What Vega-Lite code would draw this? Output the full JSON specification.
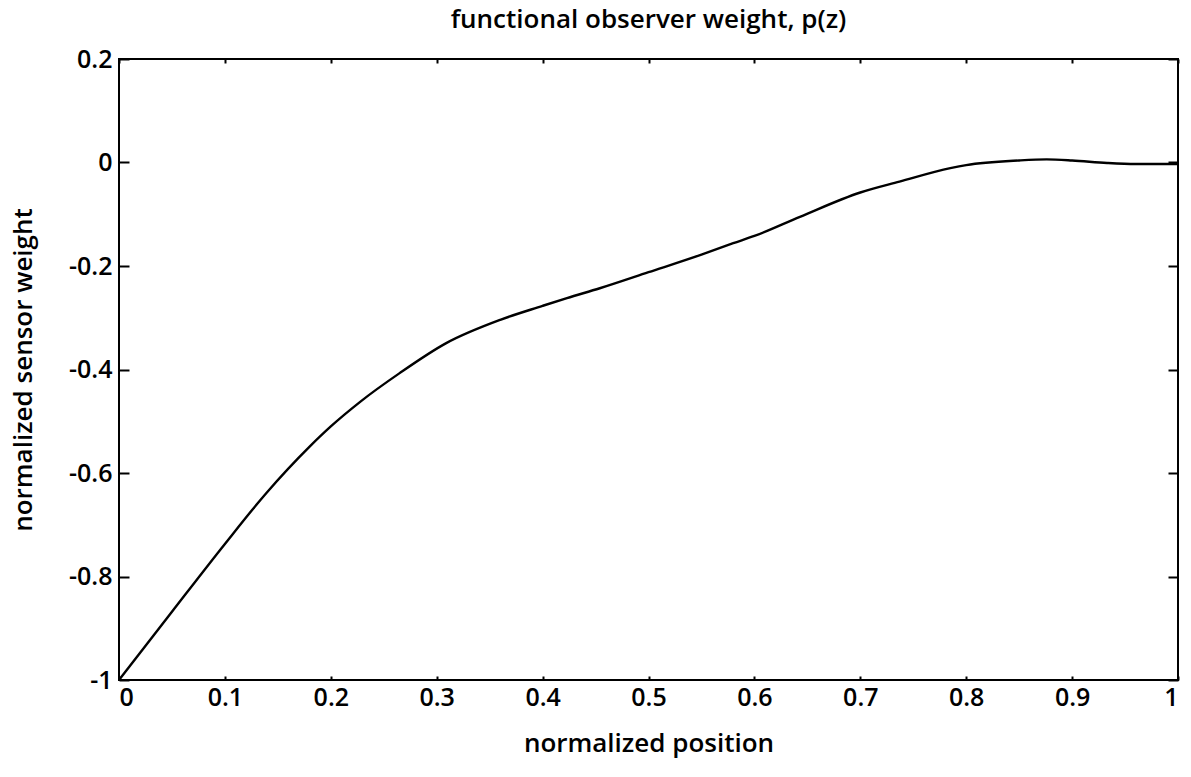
{
  "$schema": "https://vega.github.io/schema/vega-lite/v6.json",
  "width": 1059,
  "height": 621,
  "autosize": {"type": "none"},
  "padding": {"left": 119, "top": 59, "right": 13, "bottom": 97},
  "background": "white",
  "title": {
    "text": "functional observer weight, p(z)",
    "font": "Open Sans",
    "fontSize": 26,
    "fontWeight": 600,
    "color": "black",
    "offset": 14
  },
  "config": {
    "view": {"stroke": "black", "strokeWidth": 2},
    "axis": {
      "domain": false,
      "grid": false,
      "tickColor": "black",
      "tickWidth": 2,
      "labelFont": "Open Sans",
      "labelFontSize": 25,
      "labelFontWeight": 600,
      "labelColor": "black",
      "titleFont": "Open Sans",
      "titleFontSize": 26,
      "titleFontWeight": 600,
      "titleColor": "black"
    }
  },
  "data": {
    "values": [
      {"pos": 0, "w": -1},
      {"pos": 0.05, "w": -0.868},
      {"pos": 0.1, "w": -0.737},
      {"pos": 0.139, "w": -0.639},
      {"pos": 0.18, "w": -0.549},
      {"pos": 0.2, "w": -0.51},
      {"pos": 0.228, "w": -0.462},
      {"pos": 0.265, "w": -0.407},
      {"pos": 0.309, "w": -0.349},
      {"pos": 0.36, "w": -0.304},
      {"pos": 0.4, "w": -0.277},
      {"pos": 0.423, "w": -0.262},
      {"pos": 0.454, "w": -0.243},
      {"pos": 0.5, "w": -0.212},
      {"pos": 0.55, "w": -0.178},
      {"pos": 0.58, "w": -0.156},
      {"pos": 0.6, "w": -0.142},
      {"pos": 0.643, "w": -0.105},
      {"pos": 0.7, "w": -0.058},
      {"pos": 0.737, "w": -0.037},
      {"pos": 0.785, "w": -0.011},
      {"pos": 0.8, "w": -0.005},
      {"pos": 0.85, "w": 0.004},
      {"pos": 0.876, "w": 0.006},
      {"pos": 0.9, "w": 0.004},
      {"pos": 0.933, "w": -0.001},
      {"pos": 0.96, "w": -0.003},
      {"pos": 1, "w": -0.003}
    ]
  },
  "layer": [
    {
      "mark": {"type": "line", "color": "black", "strokeWidth": 2.4, "interpolate": "monotone", "clip": true},
      "encoding": {
        "x": {
          "field": "pos", "type": "quantitative",
          "scale": {"domain": [0, 1], "nice": false, "zero": false},
          "axis": {"orient": "bottom", "title": "normalized position", "values": [0,0.1,0.2,0.3,0.4,0.5,0.6,0.7,0.8,0.9,1], "labelExpr": "replace(datum.label, '\u2212', '-')", "format": "~g", "offset": -4, "tickSize": 4, "labelPadding": 5, "titlePadding": 20}
        },
        "y": {
          "field": "w", "type": "quantitative",
          "scale": {"domain": [-1, 0.2], "nice": false, "zero": false},
          "axis": {"orient": "left", "title": "normalized sensor weight", "values": [-1,-0.8,-0.6,-0.4,-0.2,0,0.2], "labelExpr": "replace(datum.label, '\u2212', '-')", "format": "~g", "offset": -10, "tickSize": 10, "labelPadding": 7, "titlePadding": 32}
        }
      }
    },
    {
      "mark": {"type": "line", "opacity": 0},
      "encoding": {
        "x": {
          "field": "pos", "type": "quantitative",
          "axis": {"orient": "top", "title": null, "labels": false, "values": [0,0.1,0.2,0.3,0.4,0.5,0.6,0.7,0.8,0.9,1], "offset": -4, "tickSize": 4}
        },
        "y": {
          "field": "w", "type": "quantitative",
          "axis": {"orient": "right", "title": null, "labels": false, "values": [-1,-0.8,-0.6,-0.4,-0.2,0,0.2], "offset": -10, "tickSize": 10}
        }
      }
    }
  ],
  "resolve": {"axis": {"x": "independent", "y": "independent"}}
}
